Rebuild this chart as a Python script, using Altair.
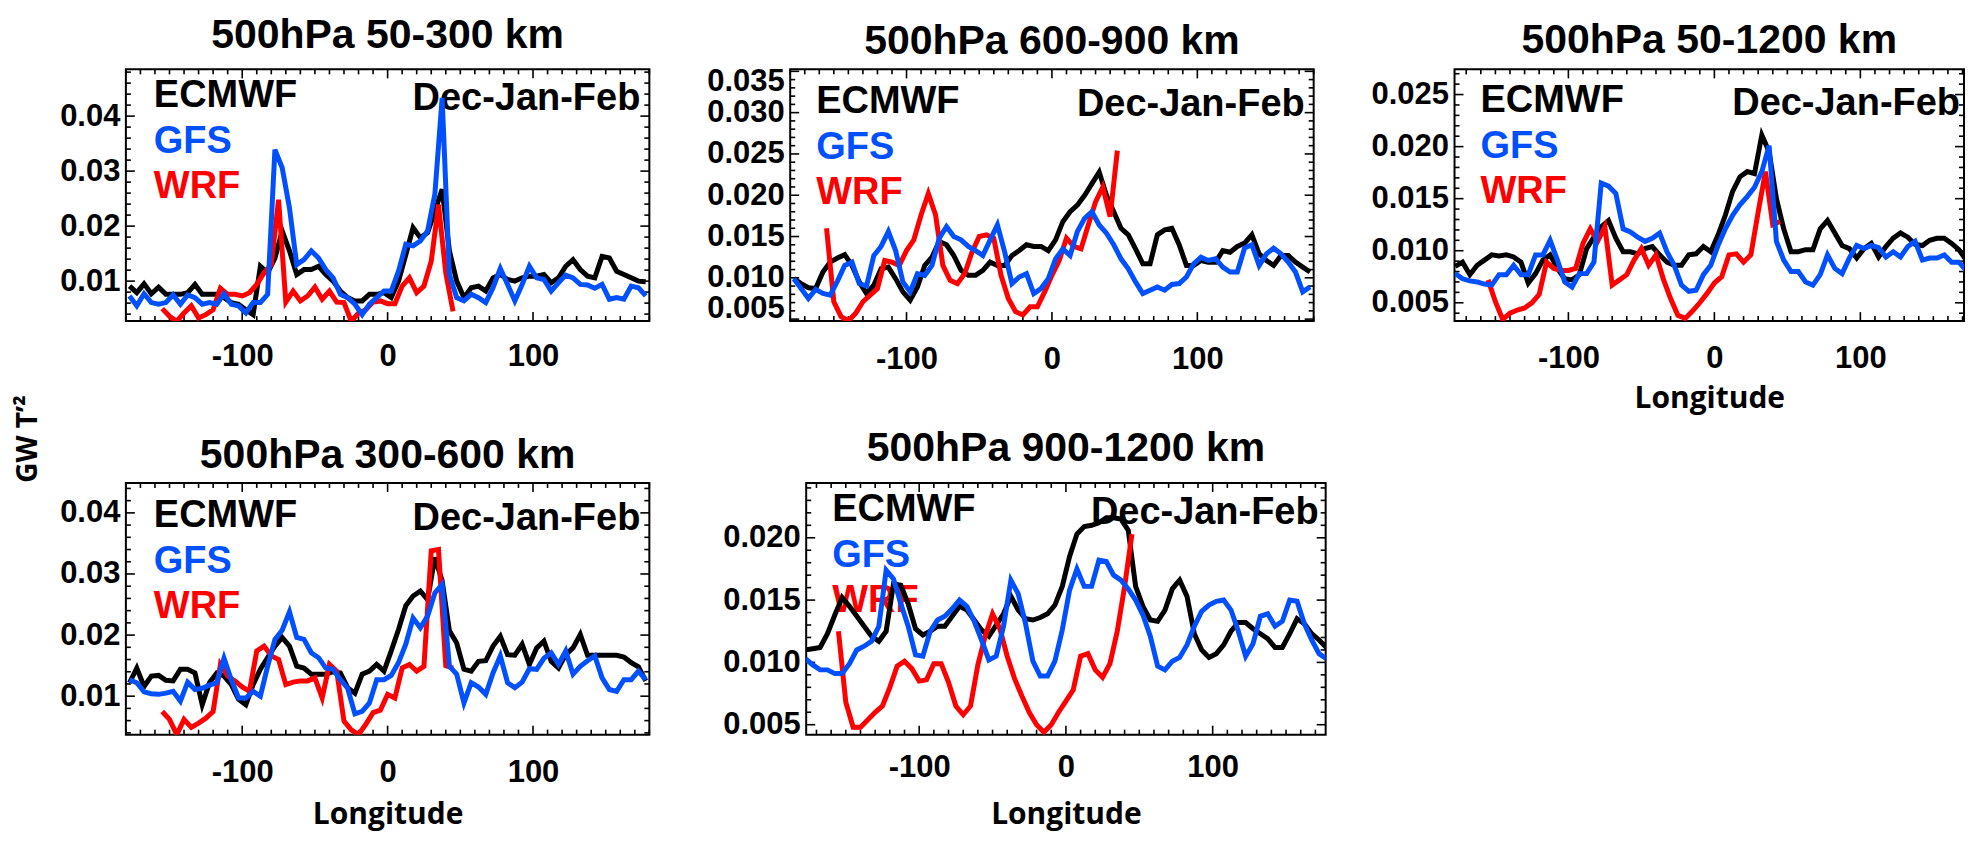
import math
import altair as alt
import pandas as pd

# ---------------------------------------------------------------- data
LON = [-177.5 + 5 * i for i in range(72)]      # ECMWF / GFS longitude grid
LON_WRF = [-155 + 5 * i for i in range(41)]    # WRF longitude grid
MODELS = ["ECMWF", "GFS", "WRF"]
SEASON = "Dec-Jan-Feb"
TITLES = ["500hPa 50-300 km", "500hPa 600-900 km", "500hPa 50-1200 km",
          "500hPa 300-600 km", "500hPa 900-1200 km"]
X_TICKS = [-100, 0, 100]
X_TITLE = "Longitude"
Y_TITLE = "GW T\u2019\u00b2"

# all series values in units of 1e-3
P1_ECMWF = [9.1, 7.9, 9.5, 7.7, 8.9, 7.6, 7.6, 7.6, 7.9, 9.4,
            7.6, 7.6, 7.6, 7.0, 6.1, 5.8, 4.8, 3.9,
            12.7, 11.5, 14.2, 19.1, 15.5, 11.2, 12.1, 12.1, 12.7, 11.2, 10.0,
            8.2, 7.0, 6.4, 6.4, 7.6, 7.6, 7.9, 7.0,
            10.0, 14.8, 19.7, 17.9, 18.8, 22.7, 26.7, 15.5, 10.0,
            7.0, 8.8, 9.1, 8.2, 10.6, 11.2, 10.3, 10.0, 10.6, 10.9, 10.9, 11.2, 9.7,
            10.6, 12.7, 13.9, 12.1, 10.9, 10.6, 14.5, 14.2, 11.8, 11.2, 10.6, 10.0, 9.9]
P1_GFS = [7.3, 5.5, 7.7, 6.1, 5.8, 6.1, 7.5, 5.8, 7.5, 7.0,
          5.8, 6.1, 5.8, 7.7, 5.8, 5.5, 4.2, 6.1, 6.1, 7.6,
          33.9, 30.6, 23.3, 13.0, 13.9, 15.5, 14.2, 12.1, 10.6,
          7.6, 7.0, 5.8, 3.9, 5.8, 7.0, 8.2, 8.2,
          11.8, 16.7, 16.4, 17.3, 19.1, 25.8, 43.3, 11.2, 7.0,
          6.4, 7.6, 7.0, 6.1, 8.8, 12.3, 9.4, 6.4, 9.4, 12.7, 10.6, 10.3, 8.2,
          9.7, 11.1, 10.6, 9.4, 9.3, 8.7, 9.4, 6.7, 7.0, 6.7, 9.1, 8.8, 7.3]
P1_WRF = [5.0, 3.6, 2.7, 4.2, 5.5, 3.3, 3.9, 4.8, 8.7,
          7.6, 7.6, 7.3, 7.9, 9.4, 11.5, 13.0, 24.8, 6.2, 8.2, 6.4, 7.3, 8.9,
          6.7, 8.2, 6.2, 6.1,
          2.7, 4.2, 4.8, 6.2, 6.4, 5.9, 5.9, 9.1, 10.6, 7.9, 9.1, 13.6, 23.9, 11.5, 4.5]

P2_ECMWF = [9.9, 9.3, 8.8, 8.7, 10.7, 11.9, 12.4, 12.8, 11.5, 9.5,
            8.1, 9.1, 11.1, 11.3, 9.9, 8.3, 7.3, 8.9, 11.5, 12.5,
            14.4, 14.0, 12.7, 10.9, 10.3, 10.3, 10.9, 11.9, 11.5, 11.5,
            12.7, 13.3, 14.0, 13.8, 13.8, 13.3, 14.6, 16.8, 18.0, 18.8,
            20.0, 21.4, 22.8, 20.0, 18.0, 16.0, 15.2, 13.5, 11.7, 11.7,
            15.2, 15.8, 16.0, 14.0, 11.5, 11.5, 12.1, 11.9, 11.9, 13.3,
            13.1, 13.8, 14.2, 15.2, 12.9, 12.1, 11.5, 12.7, 12.7, 11.9,
            11.3, 10.7]
P2_GFS = [9.9, 8.7, 7.5, 8.6, 8.1, 7.9, 9.6, 11.5, 11.9, 9.3,
          9.0, 12.7, 13.8, 15.6, 13.3, 9.5, 8.3, 10.5, 10.3, 11.5,
          14.8, 16.2, 15.0, 14.6, 13.8, 13.3, 12.7, 14.6, 16.4, 13.1,
          9.3, 10.1, 10.5, 8.1, 8.7, 9.9, 12.3, 13.5, 12.7, 15.6,
          17.2, 18.0, 16.4, 15.4, 14.0, 12.3, 11.1, 9.5, 8.1, 8.5,
          8.9, 8.5, 9.2, 9.3, 10.1, 11.7, 12.5, 12.1, 12.3, 11.3,
          10.7, 10.7, 13.6, 14.0, 11.5, 12.9, 13.6, 12.9, 11.9, 10.7,
          8.3, 8.9]
P2_WRF = [16.0, 7.1, 5.3, 4.8, 5.7, 7.1, 7.9, 8.7, 12.1, 11.9,
          11.5, 13.3, 14.6, 17.6, 20.2, 17.6, 11.5, 9.7, 9.3, 10.5,
          13.1, 15.0, 15.2, 14.8, 10.3, 7.5, 5.9, 5.5, 6.5, 6.5,
          8.3, 10.3, 12.1, 14.8, 13.8, 13.5, 16.4, 19.2, 21.0, 17.4,
          25.4]

P3_ECMWF = [8.5, 8.9, 7.7, 8.6, 9.1, 9.6, 9.5, 9.6, 9.4, 8.9,
            6.9, 7.8, 9.1, 9.6, 8.3, 7.3, 7.2, 7.7, 10.2, 11.3,
            12.3, 12.9, 11.2, 9.9, 9.9, 9.7, 10.2, 10.4, 9.6, 8.9,
            8.6, 8.6, 9.6, 9.7, 10.4, 9.9, 11.5, 13.4, 15.7, 17.1,
            17.6, 17.4, 21.1, 19.5, 15.0, 12.1, 9.9, 9.9, 10.1, 10.1,
            12.1, 12.9, 11.7, 10.5, 10.2, 9.3, 10.2, 10.7, 9.4, 10.4,
            11.2, 11.7, 11.3, 10.6, 10.5, 11.0, 11.2, 11.2, 10.7, 10.1,
            9.1, 8.3]
P3_GFS = [7.8, 7.3, 7.1, 7.0, 6.8, 6.7, 7.7, 7.7, 8.6, 7.7,
          7.7, 9.6, 9.6, 11.0, 9.1, 7.0, 6.5, 7.8, 7.8, 8.9,
          16.5, 16.2, 15.5, 12.1, 11.8, 11.3, 10.9, 11.2, 11.7, 9.9,
          8.6, 6.7, 6.1, 6.2, 7.7, 8.6, 10.5, 12.1, 13.4, 14.4,
          15.2, 16.1, 17.6, 20.1, 10.9, 9.1, 8.0, 8.0, 7.0, 6.7,
          7.7, 9.6, 8.3, 7.8, 9.3, 10.5, 10.2, 10.5, 10.3, 9.4,
          9.9, 9.4, 10.4, 10.9, 9.1, 9.3, 9.3, 9.6, 8.9, 8.9,
          8.1, 7.7]
P3_WRF = [7.2, 5.1, 3.4, 4.0, 4.3, 4.5, 5.0, 5.8, 8.9, 8.3,
          8.1, 8.1, 8.3, 10.7, 12.1, 10.9, 12.3, 6.7, 7.2, 7.7,
          9.1, 10.2, 8.6, 9.6, 7.3, 5.4, 3.8, 3.5, 4.2, 5.0,
          5.9, 6.9, 7.5, 9.6, 9.7, 8.9, 9.6, 13.7, 17.6, 12.5,
          12.8]

P4_ECMWF = [12.2, 14.6, 11.6, 13.3, 13.4, 12.6, 12.5, 14.4, 14.4, 13.8,
            8.6, 12.2, 13.8, 13.3, 11.9, 9.5, 8.6, 11.9, 14.4, 16.3,
            18.2, 19.6, 18.2, 14.9, 14.6, 13.6, 13.6, 13.6, 14.0, 13.8,
            11.4, 10.5, 13.6, 14.1, 15.2, 14.1, 17.4, 20.9, 24.8, 26.4,
            27.2, 25.8, 32.7, 28.9, 20.7, 18.7, 14.4, 14.1, 15.7, 15.8,
            18.2, 19.8, 16.8, 16.7, 18.5, 15.2, 17.9, 19.0, 15.7, 14.6,
            16.8, 17.9, 20.1, 16.7, 16.7, 16.7, 16.7, 16.7, 16.4, 15.5,
            14.8, 12.5]
P4_GFS = [12.7, 12.2, 10.7, 10.4, 10.3, 10.5, 10.8, 9.2, 12.3, 11.1,
          11.3, 11.8, 12.2, 16.2, 12.7, 9.7, 9.7, 10.8, 10.0, 14.9,
          19.3, 20.8, 23.8, 19.6, 19.3, 17.1, 16.3, 14.6, 14.4, 12.7,
          11.3, 7.1, 7.5, 8.9, 12.7, 12.7, 13.4, 15.5, 18.5, 22.8,
          21.2, 23.1, 26.9, 28.3, 14.9, 13.6, 8.9, 12.2, 11.5, 10.3,
          13.8, 16.6, 12.2, 11.4, 12.3, 14.5, 14.4, 16.2, 17.1, 15.2,
          17.4, 13.6, 14.9, 15.8, 16.6, 13.0, 11.1, 10.8, 12.7, 12.7,
          14.1, 12.7]
P4_WRF = [7.5, 6.2, 3.7, 6.2, 4.9, 5.6, 6.4, 7.5, 15.2, 13.3,
          12.5, 11.5, 10.8, 17.4, 18.2, 16.6, 16.0, 11.9, 12.3, 12.5,
          12.5, 13.0, 9.7, 15.2, 14.1, 5.9, 4.5, 3.7, 5.4, 7.3,
          7.7, 10.3, 9.7, 14.6, 15.2, 14.1, 14.9, 33.8, 34.0, 15.0,
          14.6]

P5_ECMWF = [11.0, 11.1, 11.2, 12.3, 13.8, 15.2, 14.5, 13.7, 12.9, 12.1,
            11.7, 12.5, 16.3, 16.2, 14.7, 12.7, 12.2, 12.5, 12.9, 12.9,
            13.7, 14.5, 14.2, 13.4, 12.6, 12.1, 13.0, 13.9, 15.3, 14.2,
            13.5, 13.4, 13.6, 13.9, 14.6, 16.1, 18.5, 20.3, 20.9, 21.0,
            21.2, 21.6, 21.6, 21.5, 20.6, 16.1, 14.5, 13.4, 13.3, 14.2,
            15.9, 16.6, 15.3, 12.3, 11.0, 10.4, 10.7, 11.4, 12.5, 13.2,
            13.2, 12.7, 12.3, 11.9, 11.2, 11.2, 12.3, 13.5, 13.1, 12.3,
            11.8, 11.2]
P5_GFS = [10.3, 9.8, 9.4, 9.4, 9.1, 9.1, 9.9, 11.0, 11.3, 11.7,
          12.9, 17.4, 16.7, 14.7, 12.9, 10.6, 10.5, 12.5, 13.4, 13.7,
          14.3, 15.0, 14.5, 13.3, 11.8, 10.2, 10.5, 12.9, 16.6, 15.5,
          13.1, 10.1, 8.9, 8.9, 10.1, 12.6, 15.8, 17.5, 16.1, 16.1,
          18.2, 18.1, 17.0, 16.6, 15.9, 15.0, 13.8, 12.1, 9.7, 9.4,
          10.1, 10.4, 11.4, 12.9, 14.1, 14.6, 14.9, 15.0, 14.2, 12.5,
          10.5, 11.5, 13.7, 13.9, 12.9, 13.3, 15.0, 14.9, 13.1, 11.8,
          10.7, 10.3]
P5_WRF = [12.5, 6.8, 4.8, 4.8, 5.4, 6.0, 6.5, 8.0, 9.7, 10.1,
          9.5, 8.5, 8.6, 9.9, 9.9, 8.4, 6.5, 5.8, 6.5, 9.8,
          12.1, 13.9, 12.7, 10.5, 8.7, 7.3, 6.0, 5.0, 4.4, 5.0,
          6.0, 6.9, 7.8, 10.5, 10.7, 9.4, 8.8, 9.9, 12.5, 16.1,
          20.3]

# ---------------------------------------------------------------- style
FONT = "Liberation Sans"
LFONT = "Open Sans"
COLORS = {"ECMWF": "#000000", "GFS": "#0050FF", "WRF": "#FF0000"}
H = 252


def ticks_between(lo, hi, step):
    out = []
    k = int(math.ceil(lo / step - 1e-9))
    while k * step <= hi + 1e-12:
        out.append(round(k * step, 6))
        k += 1
    return out


def text_layer(s, x, y, size, color="black", align="left", font=FONT,
               baseline="alphabetic", angle=0):
    mark = dict(align=align, baseline=baseline, font=font, fontSize=size,
                fontWeight="bold", color=color)
    if angle:
        mark["angle"] = angle
    return alt.Chart(pd.DataFrame({"t": [s]})).mark_text(**mark).encode(
        x=alt.value(x), y=alt.value(y), text="t:N")


def make_panel(title, ecm, gfs, wrf, ydom, ymajor, ystep, yfmt, xdom, width,
               xtitle=None, xlabel_pad=20, xtitle_pad=10, yflush=False,
               ecm_dx=28, season_dx=9, title_y=-18, text_dy=0, extra=()):
    xs = alt.Scale(domain=xdom, nice=False, zero=False)
    ys = alt.Scale(domain=ydom, nice=False, zero=False)

    xaxis = alt.Axis(values=X_TICKS, labelExpr="'' + datum.value", ticks=False,
                     domain=False, grid=False, labelFont=FONT, labelFontSize=31,
                     labelFontWeight="bold", labelColor="black",
                     labelPadding=xlabel_pad, labelFlush=False, labelOverlap=False,
                     title=xtitle, titleFont=LFONT, titleFontSize=30,
                     titleFontWeight="bold", titleColor="black",
                     titlePadding=xtitle_pad)
    yaxis = alt.Axis(values=ymajor, format=yfmt, ticks=False, domain=False,
                     grid=False, labelFont=FONT, labelFontSize=31,
                     labelFontWeight="bold", labelColor="black", labelPadding=6,
                     labelFlush=(4 if yflush else False),
                     labelFlushOffset=(5 if yflush else 0),
                     labelOverlap=False, title=None)
    X = alt.X("lon:Q", scale=xs, axis=xaxis)
    Y = alt.Y("val:Q", scale=ys, axis=yaxis)

    ymin = [v for v in ticks_between(ydom[0], ydom[1], ystep)
            if all(abs(v - m) > 1e-9 for m in ymajor)]
    xmin = [v for v in ticks_between(xdom[0], xdom[1], 10) if v not in X_TICKS]

    def yt(vals, x1, x2):
        return alt.Chart(pd.DataFrame({"val": vals})).mark_rule(
            color="black", strokeWidth=1.6).encode(
            y=Y, x=alt.value(x1), x2=alt.value(x2))

    def xt(vals, y1, y2):
        return alt.Chart(pd.DataFrame({"lon": vals})).mark_rule(
            color="black", strokeWidth=1.6).encode(
            x=X, y=alt.value(y1), y2=alt.value(y2))

    ticks = [yt(ymajor, 0, 9), yt(ymajor, width, width - 9),
             yt(ymin, 0, 5), yt(ymin, width, width - 5),
             xt(X_TICKS, H, H - 9), xt(X_TICKS, 0, 9),
             xt(xmin, H, H - 5), xt(xmin, 0, 5)]

    texts = [text_layer(title, width / 2, title_y, 41, align="center"),
             text_layer(MODELS[0], ecm_dx, 41 + text_dy, 38, COLORS["ECMWF"]),
             text_layer(MODELS[1], ecm_dx, 87 + text_dy, 38, COLORS["GFS"]),
             text_layer(MODELS[2], ecm_dx, 132 + text_dy, 38, COLORS["WRF"]),
             text_layer(SEASON, width - season_dx, 44 + text_dy, 38,
                        align="right")]

    def line(lons, vals, model):
        df = pd.DataFrame({"lon": lons, "val": [v / 1000 for v in vals]})
        return alt.Chart(df).mark_line(
            color=COLORS[model], strokeWidth=5, clip=True).encode(x=X, y=Y)

    lines = [line(LON, ecm, "ECMWF"),
             line(LON_WRF, wrf, "WRF"),
             line(LON, gfs, "GFS")]

    return alt.layer(*ticks, *texts, *lines, *extra).properties(
        width=width, height=H)


# shared y-axis caption, placed relative to the first panel
gw_label = text_layer(Y_TITLE, -97, 370, 28, font=LFONT, align="center",
                      baseline="middle", angle=270)

p1 = make_panel(TITLES[0], P1_ECMWF, P1_GFS, P1_WRF, [0.00273, 0.0485],
                [0.01, 0.02, 0.03, 0.04], 0.002, ".2f", [-180, 180], 524,
                xlabel_pad=20, title_y=-21, text_dy=-3, extra=[gw_label])
p2 = make_panel(TITLES[1], P2_ECMWF, P2_GFS, P2_WRF, [0.00476, 0.03524],
                [0.005, 0.010, 0.015, 0.020, 0.025, 0.030, 0.035], 0.001,
                ".3f", [-180, 180], 524, xlabel_pad=23, yflush=True, ecm_dx=26,
                title_y=-15, text_dy=3)
p3 = make_panel(TITLES[2], P3_ECMWF, P3_GFS, P3_WRF, [0.00324, 0.02742],
                [0.005, 0.010, 0.015, 0.020, 0.025], 0.001, ".3f",
                [-178, 171], 510, xtitle=X_TITLE, xlabel_pad=22, xtitle_pad=10,
                ecm_dx=26, season_dx=4, title_y=-16, text_dy=2)
p4 = make_panel(TITLES[3], P4_ECMWF, P4_GFS, P4_WRF, [0.0037, 0.0449],
                [0.01, 0.02, 0.03, 0.04], 0.002, ".2f", [-180, 180], 524,
                xtitle=X_TITLE, xlabel_pad=23, xtitle_pad=12, title_y=-15,
                text_dy=3)
p5 = make_panel(TITLES[4], P5_ECMWF, P5_GFS, P5_WRF, [0.0042, 0.0244],
                [0.005, 0.010, 0.015, 0.020], 0.001, ".3f", [-177, 177], 520,
                xtitle=X_TITLE, xlabel_pad=18, xtitle_pad=17, ecm_dx=26,
                season_dx=7, title_y=-22, text_dy=-3)

row1 = alt.hconcat(p1, p2, p3, spacing=141, bounds="flush")
row2 = alt.hconcat(p4, p5, spacing=157, bounds="flush")

chart = alt.vconcat(row1, row2, spacing=414, bounds="flush").configure_view(
    stroke="black", strokeWidth=2).properties(
    padding={"left": 6, "top": 6, "right": 0, "bottom": 3},
    background="white")

chart.save("out.html", embed_options={"renderer": "svg", "actions": False})
